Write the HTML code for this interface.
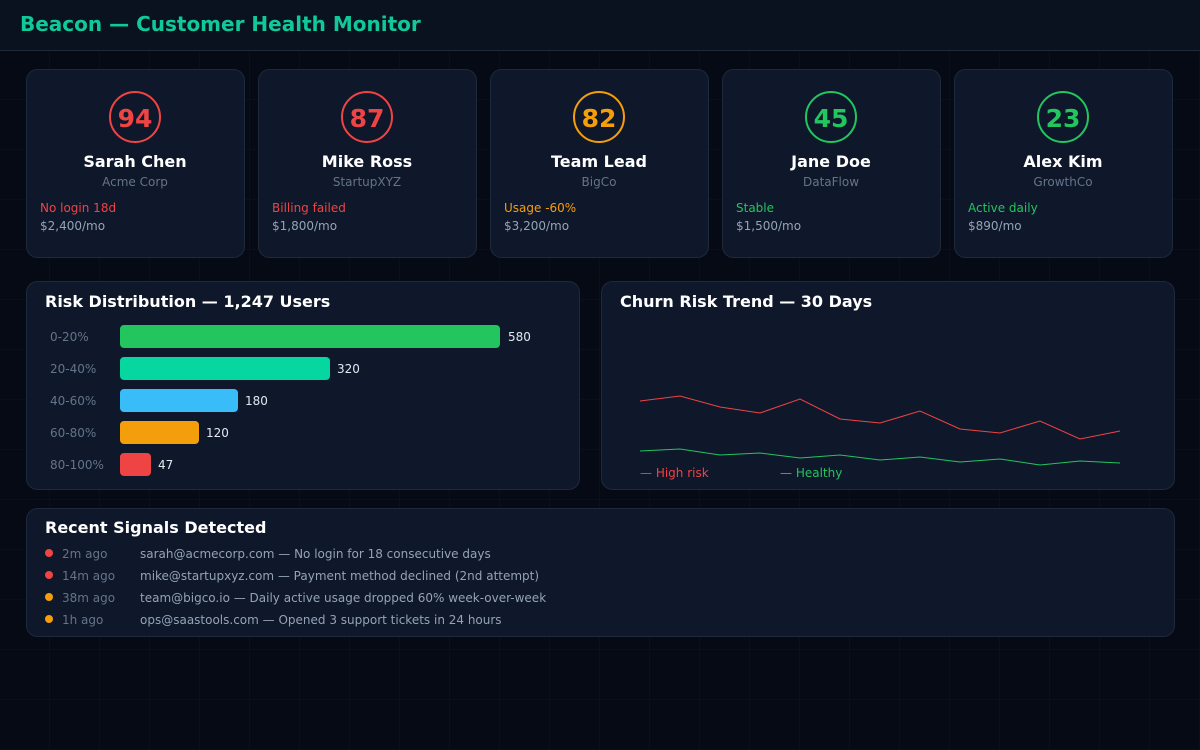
<!DOCTYPE html>
<html><head><meta charset="utf-8"><style>
html,body{margin:0;padding:0;background:#050a15;}
svg{display:block;font-family:"DejaVu Sans","Liberation Sans",sans-serif;}
</style></head><body>
<svg width="1200" height="750" viewBox="0 0 1200 750" xmlns="http://www.w3.org/2000/svg">
<defs>
<pattern id="g" width="50" height="50" patternUnits="userSpaceOnUse"><path d="M50 0V50M0 50H50" stroke="#0d1524" stroke-width="1" fill="none"/></pattern>
</defs>
<rect width="1200" height="750" fill="#050a15"/>
<rect width="1200" height="750" fill="url(#g)"/>
<rect width="1200" height="50" fill="#0a111f"/>
<line x1="0" y1="50.5" x2="1200" y2="50.5" stroke="#1e293b"/>
<text x="20" y="31" font-size="20" font-weight="bold" fill="#10c99a">Beacon — Customer Health Monitor</text>

<g font-size="12">
<g transform="translate(26,69)">
<rect x="0.5" y="0.5" width="218" height="188" rx="11" fill="#0f172a" stroke="#1e293b"/>
<circle cx="109" cy="48" r="25" fill="none" stroke="#ef4444" stroke-width="2"/>
<text x="109" y="58" text-anchor="middle" font-size="25" font-weight="bold" fill="#ef4444">94</text>
<text x="109" y="98" text-anchor="middle" font-size="16" font-weight="bold" fill="#fff">Sarah Chen</text>
<text x="109" y="117" text-anchor="middle" fill="#64748b">Acme Corp</text>
<text x="14" y="143" fill="#ef4444">No login 18d</text>
<text x="14" y="161" fill="#94a3b8">$2,400/mo</text>
</g>
<g transform="translate(258,69)">
<rect x="0.5" y="0.5" width="218" height="188" rx="11" fill="#0f172a" stroke="#1e293b"/>
<circle cx="109" cy="48" r="25" fill="none" stroke="#ef4444" stroke-width="2"/>
<text x="109" y="58" text-anchor="middle" font-size="25" font-weight="bold" fill="#ef4444">87</text>
<text x="109" y="98" text-anchor="middle" font-size="16" font-weight="bold" fill="#fff">Mike Ross</text>
<text x="109" y="117" text-anchor="middle" fill="#64748b">StartupXYZ</text>
<text x="14" y="143" fill="#ef4444">Billing failed</text>
<text x="14" y="161" fill="#94a3b8">$1,800/mo</text>
</g>
<g transform="translate(490,69)">
<rect x="0.5" y="0.5" width="218" height="188" rx="11" fill="#0f172a" stroke="#1e293b"/>
<circle cx="109" cy="48" r="25" fill="none" stroke="#f59e0b" stroke-width="2"/>
<text x="109" y="58" text-anchor="middle" font-size="25" font-weight="bold" fill="#f59e0b">82</text>
<text x="109" y="98" text-anchor="middle" font-size="16" font-weight="bold" fill="#fff">Team Lead</text>
<text x="109" y="117" text-anchor="middle" fill="#64748b">BigCo</text>
<text x="14" y="143" fill="#f59e0b">Usage -60%</text>
<text x="14" y="161" fill="#94a3b8">$3,200/mo</text>
</g>
<g transform="translate(722,69)">
<rect x="0.5" y="0.5" width="218" height="188" rx="11" fill="#0f172a" stroke="#1e293b"/>
<circle cx="109" cy="48" r="25" fill="none" stroke="#22c55e" stroke-width="2"/>
<text x="109" y="58" text-anchor="middle" font-size="25" font-weight="bold" fill="#22c55e">45</text>
<text x="109" y="98" text-anchor="middle" font-size="16" font-weight="bold" fill="#fff">Jane Doe</text>
<text x="109" y="117" text-anchor="middle" fill="#64748b">DataFlow</text>
<text x="14" y="143" fill="#22c55e">Stable</text>
<text x="14" y="161" fill="#94a3b8">$1,500/mo</text>
</g>
<g transform="translate(954,69)">
<rect x="0.5" y="0.5" width="218" height="188" rx="11" fill="#0f172a" stroke="#1e293b"/>
<circle cx="109" cy="48" r="25" fill="none" stroke="#22c55e" stroke-width="2"/>
<text x="109" y="58" text-anchor="middle" font-size="25" font-weight="bold" fill="#22c55e">23</text>
<text x="109" y="98" text-anchor="middle" font-size="16" font-weight="bold" fill="#fff">Alex Kim</text>
<text x="109" y="117" text-anchor="middle" fill="#64748b">GrowthCo</text>
<text x="14" y="143" fill="#22c55e">Active daily</text>
<text x="14" y="161" fill="#94a3b8">$890/mo</text>
</g>
</g>

<rect x="26.5" y="281.5" width="553" height="208" rx="11" fill="#0f172a" stroke="#1e293b"/>
<text x="45" y="307" font-size="16" font-weight="bold" fill="#fff">Risk Distribution — 1,247 Users</text>
<g font-size="12">
<text x="50" y="341" fill="#64748b">0-20%</text>
<rect x="120" y="325" width="380" height="23" rx="4" fill="#22c55e"/><text x="508" y="341" fill="#e2e8f0">580</text>
<text x="50" y="373" fill="#64748b">20-40%</text>
<rect x="120" y="357" width="210" height="23" rx="4" fill="#06d6a0"/><text x="337" y="373" fill="#e2e8f0">320</text>
<text x="50" y="405" fill="#64748b">40-60%</text>
<rect x="120" y="389" width="118" height="23" rx="4" fill="#38bdf8"/><text x="245" y="405" fill="#e2e8f0">180</text>
<text x="50" y="437" fill="#64748b">60-80%</text>
<rect x="120" y="421" width="79" height="23" rx="4" fill="#f59e0b"/><text x="206" y="437" fill="#e2e8f0">120</text>
<text x="50" y="469" fill="#64748b">80-100%</text>
<rect x="120" y="453" width="31" height="23" rx="4" fill="#ef4444"/><text x="158" y="469" fill="#e2e8f0">47</text>
</g>

<rect x="601.5" y="281.5" width="573" height="208" rx="11" fill="#0f172a" stroke="#1e293b"/>
<text x="620" y="307" font-size="16" font-weight="bold" fill="#fff">Churn Risk Trend — 30 Days</text>
<polyline fill="none" stroke="#ef4444" stroke-width="1" points="640,401 680,396 720,407 760,413 800,399 840,419 880,423 920,411 960,429 1000,433 1040,421 1080,439 1120,431"/>
<polyline fill="none" stroke="#22c55e" stroke-width="1" points="640,451 680,449 720,455 760,453 800,458 840,455 880,460 920,457 960,462 1000,459 1040,465 1080,461 1120,463"/>
<text x="640" y="477" font-size="12" fill="#ef4444">— High risk</text>
<text x="780" y="477" font-size="12" fill="#22c55e">— Healthy</text>

<rect x="26.5" y="508.5" width="1148" height="128" rx="11" fill="#0f172a" stroke="#1e293b"/>
<text x="45" y="533" font-size="16" font-weight="bold" fill="#fff">Recent Signals Detected</text>
<g font-size="12">
<circle cx="49" cy="553" r="4" fill="#ef4444"/><text x="62" y="558" fill="#64748b">2m ago</text><text x="140" y="558" fill="#94a3b8">sarah@acmecorp.com — No login for 18 consecutive days</text>
<circle cx="49" cy="575" r="4" fill="#ef4444"/><text x="62" y="580" fill="#64748b">14m ago</text><text x="140" y="580" fill="#94a3b8">mike@startupxyz.com — Payment method declined (2nd attempt)</text>
<circle cx="49" cy="597" r="4" fill="#f59e0b"/><text x="62" y="602" fill="#64748b">38m ago</text><text x="140" y="602" fill="#94a3b8">team@bigco.io — Daily active usage dropped 60% week-over-week</text>
<circle cx="49" cy="619" r="4" fill="#f59e0b"/><text x="62" y="624" fill="#64748b">1h ago</text><text x="140" y="624" fill="#94a3b8">ops@saastools.com — Opened 3 support tickets in 24 hours</text>
</g>
</svg>
</body></html>
